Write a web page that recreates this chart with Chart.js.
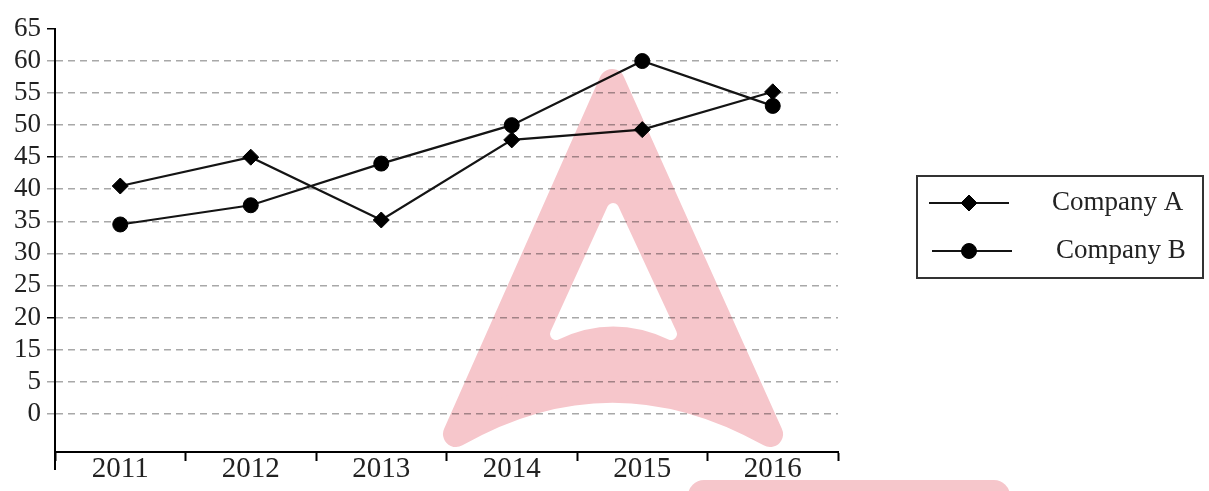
<!DOCTYPE html>
<html>
<head>
<meta charset="utf-8">
<title>Company A vs Company B</title>
<script src="https://cdn.jsdelivr.net/npm/chart.js@4/dist/chart.umd.min.js"></script>
<style>
    html, body { margin: 0; padding: 0; background: #fff; }
    #wrap { width: 1209px; height: 491px; position: relative; }
</style>
</head>
<body>
<div id="wrap"><canvas id="chart" width="1209" height="491"></canvas></div>
<script>
// --- data ---
const years = ['2011', '2012', '2013', '2014', '2015', '2016'];
const companyA = [40.5, 45, 35.2, 47.7, 49.3, 55.2];
const companyB = [34.5, 37.5, 44, 50, 60, 53];

// the original axis skips "10": label positions vs printed text
const yTickValues = [5, 10, 15, 20, 25, 30, 35, 40, 45, 50, 55, 60, 65];
const yTickLabels = ['0', '5', '15', '20', '25', '30', '35', '40', '45', '50', '55', '60', '65'];

const SERIF = '"Liberation Serif", "Times New Roman", serif';
const INK = '#141414';

// y axis line runs a little past the x axis, like the original
const axisTail = {
    id: 'axisTail',
    afterDraw(chart) {
        const { ctx, chartArea } = chart;
        ctx.save();
        ctx.strokeStyle = '#000';
        ctx.lineWidth = 2;
        ctx.beginPath();
        ctx.moveTo(chartArea.left, chartArea.bottom);
        ctx.lineTo(chartArea.left, chartArea.bottom + 18);
        ctx.stroke();
        ctx.restore();
    }
};

// legend box at the right, drawn from the datasets
const boxLegend = {
    id: 'boxLegend',
    afterDraw(chart) {
        const ctx = chart.ctx;
        ctx.save();
        ctx.strokeStyle = '#333';
        ctx.lineWidth = 2;
        ctx.strokeRect(917, 176, 286, 102);
        chart.data.datasets.forEach((ds, i) => {
            const y = 203 + i * 48;
            ctx.beginPath();
            ctx.strokeStyle = ds.borderColor;
            ctx.lineWidth = 2;
            ctx.moveTo(929 + i * 3, y);
            ctx.lineTo(1009 + i * 3, y);
            ctx.stroke();
            ctx.fillStyle = ds.pointBackgroundColor;
            ctx.strokeStyle = ds.pointBorderColor;
            ctx.lineWidth = 1;
            Chart.helpers.drawPoint(ctx, {
                pointStyle: ds.pointStyle, radius: ds.pointRadius, borderWidth: 1, rotation: 0
            }, 969, y);
            ctx.fillStyle = '#222';
            ctx.font = '27px ' + SERIF;
            ctx.textBaseline = 'middle';
            ctx.textAlign = 'left';
            ctx.fillText(ds.label, 1052 + i * 4, y);
        });
        ctx.restore();
    }
};

// pink watermark laid over the picture
const watermark = {
    id: 'watermark',
    afterDraw(chart) {
        const off = document.createElement('canvas');
        off.width = chart.width;
        off.height = chart.height;
        const o = off.getContext('2d');
        o.fillStyle = o.strokeStyle = '#f6c6cb';
        o.lineJoin = 'round';

        // outer "A"
        o.lineWidth = 26;
        o.beginPath();
        o.moveTo(612, 82);
        o.lineTo(456, 434);
        o.quadraticCurveTo(612, 345, 770, 434);
        o.closePath();
        o.fill();
        o.stroke();

        // hole
        o.globalCompositeOperation = 'destination-out';
        o.lineWidth = 12;
        o.beginPath();
        o.moveTo(613, 209);
        o.lineTo(671, 334);
        o.quadraticCurveTo(613, 307, 556, 334);
        o.closePath();
        o.fill();
        o.stroke();

        // band at the bottom edge
        o.globalCompositeOperation = 'source-over';
        o.beginPath();
        o.roundRect(688, 480, 322, 40, 16);
        o.fill();

        const ctx = chart.ctx;
        ctx.save();
        ctx.globalCompositeOperation = 'multiply';
        ctx.drawImage(off, 0, 0);
        ctx.restore();
    }
};

new Chart(document.getElementById('chart'), {
    type: 'line',
    data: {
        labels: years,
        datasets: [
            {
                label: 'Company A',
                data: companyA,
                borderColor: INK,
                borderWidth: 2.2,
                pointStyle: 'rectRot',
                pointRadius: 8,
                pointBackgroundColor: '#000',
                pointBorderColor: '#000',
                pointBorderWidth: 1,
                tension: 0
            },
            {
                label: 'Company B',
                data: companyB,
                borderColor: INK,
                borderWidth: 2.2,
                pointStyle: 'circle',
                pointRadius: 7.5,
                pointBackgroundColor: '#000',
                pointBorderColor: '#000',
                pointBorderWidth: 1,
                tension: 0
            }
        ]
    },
    options: {
        responsive: false,
        animation: false,
        devicePixelRatio: 1,
        layout: { padding: { left: 0, right: 371, top: 29, bottom: 0 } },
        plugins: {
            legend: { display: false },
            tooltip: { enabled: false }
        },
        scales: {
            x: {
                offset: true,
                afterFit: (scale) => { scale.height = 39; },
                border: { color: '#000', width: 2 },
                grid: {
                    offset: true,
                    drawOnChartArea: false,
                    tickLength: 9,
                    tickColor: '#000',
                    tickWidth: 2
                },
                ticks: {
                    color: '#222',
                    padding: -9,
                    font: { family: SERIF, size: 29 }
                }
            },
            y: {
                min: -1,
                max: 65,
                afterFit: (scale) => { scale.width = 55; },
                afterBuildTicks: (scale) => {
                    scale.ticks = yTickValues.map(v => ({ value: v }));
                },
                border: { color: '#000', width: 2, dash: [7, 5] },
                grid: {
                    color: (c) => (c.tick && c.tick.value === 65) ? 'rgba(0,0,0,0)' : '#a8a8a8',
                    lineWidth: 1.5,
                    tickLength: 8,
                    tickColor: (c) => (c.tick && [20, 45, 65].includes(c.tick.value)) ? '#000' : '#a8a8a8',
                    tickWidth: 1.5
                },
                ticks: {
                    color: '#222',
                    padding: 6,
                    autoSkip: false,
                    font: { family: SERIF, size: 27 },
                    callback: (value) => yTickLabels[yTickValues.indexOf(value)]
                }
            }
        }
    },
    plugins: [axisTail, boxLegend, watermark]
});
</script>
</body>
</html>
